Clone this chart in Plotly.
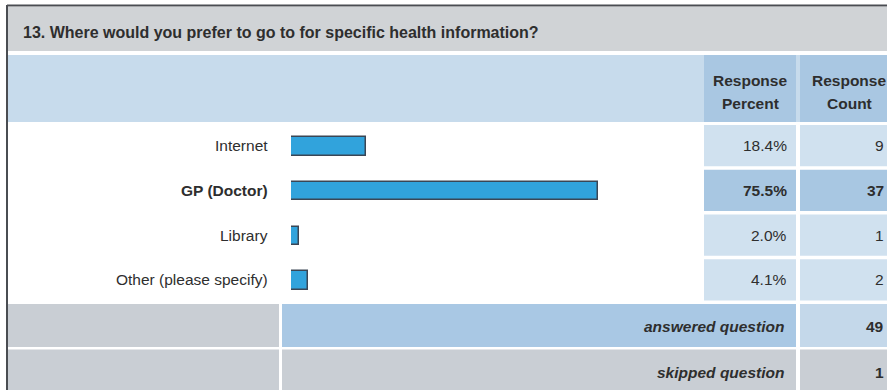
import plotly.graph_objects as go

# Survey question 13 results
question = "13. Where would you prefer to go to for specific health information?"
categories = ["Internet", "GP (Doctor)", "Library", "Other (please specify)"]
percents = [18.4, 75.5, 2.0, 4.1]
counts = [9, 37, 1, 2]
header_percent = ["Response", "Percent"]
header_count = ["Response", "Count"]
summary_labels = ["answered question", "skipped question"]
summary_values = [49, 1]
highlight = "GP (Doctor)"

W, H = 887, 390
FONT = "Liberation Sans, Arial, Helvetica, sans-serif"
TXT = "#2e2e2e"

# table geometry (pixels, origin top-left)
LEFT = 8
TITLE_TOP, TITLE_BOT = 7, 51
HEAD_TOP, HEAD_BOT = 55, 122
ROWS_TOP, ROW_PITCH, ROW_GAP = 124, 44.75, 2.5
PCT_X0, PCT_X1 = 704, 796
CNT_X0, CNT_X1 = 800, 887
LABEL_X = 270
BAR_X0, BAR_X1 = 291, 697
SUM_TOP = ROWS_TOP + ROW_PITCH * len(categories) + 1
SUM_H = 43
SUM_GAP = 2.5
SUM_SPLIT = 280

C_TITLE = "#d0d3d6"
C_HEAD = "#c7dbec"
C_HEAD_CELL = "#a9c7e2"
C_CELL = "#d0e1ef"
C_CELL_HI = "#a8c7e2"
C_GRAY = "#c9ced4"
C_SUM_BLUE = "#a9c8e4"
C_SUM_CNT = "#c4d8ea"

shapes = []
annotations = []


def rect(x0, y0, x1, y1, color):
    shapes.append(dict(type="rect", xref="x", yref="y", x0=x0, y0=y0, x1=x1, y1=y1,
                       fillcolor=color, line=dict(width=0), layer="below"))


def text(x, y, s, anchor="left", size=15.5, bold=True, italic=False, color=TXT):
    if bold:
        s = f"<b>{s}</b>"
    if italic:
        s = f"<i>{s}</i>"
    annotations.append(dict(xref="x", yref="y", x=x, y=y, text=s, showarrow=False,
                            xanchor=anchor, yanchor="middle",
                            font=dict(family=FONT, size=size, color=color)))


# title band
rect(LEFT, TITLE_TOP, W, TITLE_BOT, C_TITLE)
text(21, 32, question, size=16)

# header band
rect(LEFT, HEAD_TOP, W, HEAD_BOT, C_HEAD)
rect(PCT_X0, HEAD_TOP, PCT_X1, HEAD_BOT, C_HEAD_CELL)
rect(CNT_X0, HEAD_TOP, CNT_X1, HEAD_BOT, C_HEAD_CELL)
for i, (a, b) in enumerate(zip(header_percent, header_count)):
    y = 80 + i * 23
    text((PCT_X0 + PCT_X1) / 2, y, a, anchor="center")
    text(849, y, b, anchor="center")

# answer rows: value cells and labels
for i, (cat, p, c) in enumerate(zip(categories, percents, counts)):
    y0 = ROWS_TOP + i * ROW_PITCH + 1
    y1 = ROWS_TOP + (i + 1) * ROW_PITCH - ROW_GAP
    ym = (y0 + y1) / 2
    col = C_CELL_HI if cat == highlight else C_CELL
    rect(PCT_X0, y0, PCT_X1, y1, col)
    rect(CNT_X0, y0, CNT_X1, y1, col)
    text(LABEL_X, ym, cat, anchor="right", bold=(cat == highlight))
    text(789, ym, f"{p:.1f}%", anchor="right", bold=(cat == highlight))
    text(886, ym, str(c), anchor="right", bold=(cat == highlight))

# summary rows
for i, (lab, v) in enumerate(zip(summary_labels, summary_values)):
    y0 = SUM_TOP + i * (SUM_H + SUM_GAP)
    y1 = y0 + SUM_H
    ym = (y0 + y1) / 2
    if i == 0:
        rect(LEFT, y0, SUM_SPLIT - 1, y1, C_GRAY)
        rect(SUM_SPLIT + 2, y0, PCT_X1, y1, C_SUM_BLUE)
        rect(CNT_X0, y0, CNT_X1, y1, C_SUM_CNT)
    else:
        rect(LEFT, y0, SUM_SPLIT - 1, y1 + 5, C_GRAY)
        rect(SUM_SPLIT + 2, y0, PCT_X1, y1 + 5, C_GRAY)
        rect(CNT_X0, y0, CNT_X1, y1 + 5, C_GRAY)
    text(786, ym + 1, lab, anchor="right", italic=True)
    text(886, ym + 1, str(v), anchor="right")

# outer frame (left and top edges)
shapes.append(dict(type="line", xref="x", yref="y", x0=LEFT - 1, y0=5, x1=LEFT - 1, y1=H,
                   line=dict(color="#4a4d52", width=2)))
shapes.append(dict(type="line", xref="x", yref="y", x0=LEFT - 1, y0=5.5, x1=W, y1=5.5,
                   line=dict(color="#4a4d52", width=2)))

fig = go.Figure()

# horizontal bars on their own axis pair
fig.add_trace(go.Bar(
    x=percents, y=categories, orientation="h",
    xaxis="x2", yaxis="y2", width=0.41,
    marker=dict(color="#31a3dc", line=dict(color="#3a4655", width=1.5)),
    hoverinfo="skip", showlegend=False,
))

rows_bottom = ROWS_TOP + ROW_PITCH * len(categories)
fig.update_layout(
    width=W, height=H,
    margin=dict(l=0, r=0, t=0, b=0),
    paper_bgcolor="white", plot_bgcolor="rgba(0,0,0,0)",
    xaxis=dict(range=[0, W], domain=[0, 1], visible=False, fixedrange=True),
    yaxis=dict(range=[H, 0], domain=[0, 1], visible=False, fixedrange=True),
    xaxis2=dict(range=[0, 100], domain=[BAR_X0 / W, BAR_X1 / W], anchor="y2",
                visible=False, fixedrange=True),
    yaxis2=dict(domain=[(H - rows_bottom) / H, (H - ROWS_TOP) / H], anchor="x2",
                autorange="reversed", visible=False, fixedrange=True,
                categoryorder="array", categoryarray=categories),
    shapes=shapes,
    annotations=annotations,
    bargap=0,
)

fig.write_html("out.html")
